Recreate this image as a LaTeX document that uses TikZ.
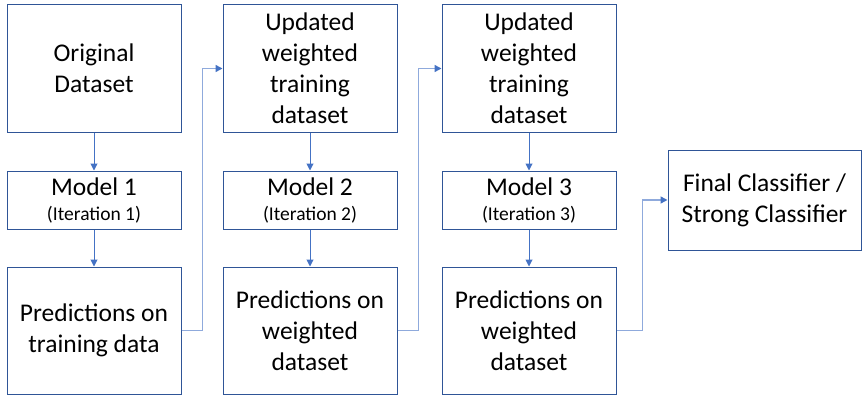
\documentclass[tikz,border=0pt]{standalone}
\usepackage{fontspec}
\setmainfont{Carlito}
\usetikzlibrary{positioning,arrows.meta}
\definecolor{boxblue}{HTML}{2F5597}
\definecolor{arrowblue}{HTML}{4472C4}
\definecolor{lineblue}{HTML}{8FAADC}
\newcommand{\bigtxt}{\fontsize{25.5}{31}\selectfont}
\newcommand{\smalltxt}{\fontsize{19.5}{22}\selectfont}
\tikzstyle{datablock} = [rectangle, minimum width=174pt, minimum height=127pt,
text centered, align=center, draw=boxblue, line width=1pt, inner sep=0pt, font=\bigtxt]
\tikzstyle{modelblock} = [rectangle, minimum width=174pt, minimum height=58pt,
text centered, align=center, draw=boxblue, line width=1pt, inner sep=0pt, font=\bigtxt]
\tikzstyle{finalblock} = [rectangle, minimum width=193pt, minimum height=100pt,
text centered, align=center, draw=boxblue, line width=1pt, inner sep=0pt, font=\bigtxt]
\tikzstyle{arrow} = [arrowblue, line width=1pt, -{Triangle[length=7pt,width=7pt]}]
\tikzstyle{elbow} = [lineblue, line width=1.4pt, -{Triangle[length=7pt,width=7pt,color=arrowblue]}]

\begin{document}
\begin{tikzpicture}
  \useasboundingbox (0,0) rectangle (864pt,-401pt);
  %blocks
  \node (orig) [datablock] at (94pt,-68.5pt) {Original\\Dataset};
  \node (model1) [modelblock, below=38pt of orig] {Model 1\\[-6pt]{\smalltxt(Iteration 1)}};
  \node (pred1) [datablock, below=37pt of model1] {Predictions on\\training data};
  \node (upd1) [datablock, right=41pt of orig] {Updated\\weighted\\training\\dataset};
  \node (model2) [modelblock, below=38pt of upd1] {Model 2\\[-6pt]{\smalltxt(Iteration 2)}};
  \node (pred2) [datablock, below=37pt of model2] {Predictions on\\weighted\\dataset};
  \node (upd2) [datablock, right=44pt of upd1] {Updated\\weighted\\training\\dataset};
  \node (model3) [modelblock, below=38pt of upd2] {Model 3\\[-6pt]{\smalltxt(Iteration 3)}};
  \node (pred3) [datablock, below=37pt of model3] {Predictions on\\weighted\\dataset};
  \node (final) [finalblock, right=51pt of model3] {Final Classifier /\\Strong Classifier};
  %connections
  \draw [arrow] (orig) -- (model1);
  \draw [arrow] (model1) -- (pred1);
  \draw [arrow] (upd1) -- (model2);
  \draw [arrow] (model2) -- (pred2);
  \draw [arrow] (upd2) -- (model3);
  \draw [arrow] (model3) -- (pred3);
  % predictions -> next dataset
  \draw [elbow] (pred1.east) -- ++(21pt,0) |- (upd1.west);
  \draw [elbow] (pred2.east) -- ++(21pt,0) |- (upd2.west);
  \draw [elbow] (pred3.east) -- ++(26pt,0) |- (final.west);
\end{tikzpicture}
\end{document}
